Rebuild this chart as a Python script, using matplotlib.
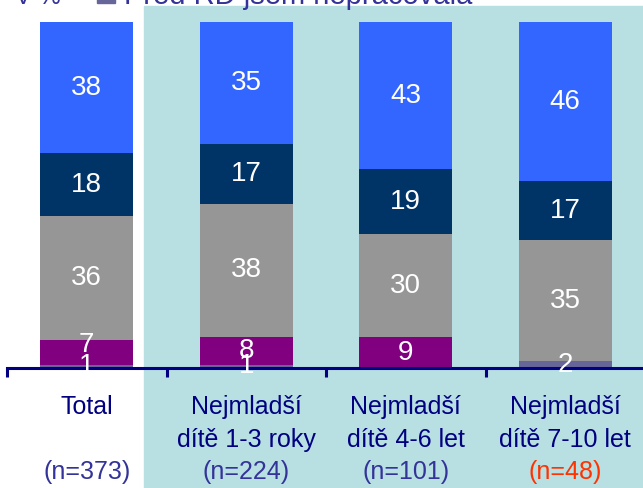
import matplotlib.pyplot as plt
from matplotlib.patches import Rectangle
import numpy as np

plt.rcParams['font.family'] = ['Liberation Sans', 'DejaVu Sans']

# data (percent, bottom -> top)
names_top = ["Total", "Nejmladší", "Nejmladší", "Nejmladší"]
names_bottom = ["", "dítě 1-3 roky", "dítě 4-6 let", "dítě 7-10 let"]
sizes = ["(n=373)", "(n=224)", "(n=101)", "(n=48)"]
size_colors = ["#333399", "#333399", "#333399", "#FF3300"]

nepracovala = [1, 1, 0, 2]
purple_vals = [7, 8, 9, 0]
grey_vals = [36, 38, 30, 35]
navy_vals = [18, 17, 19, 17]
blue_vals = [38, 35, 43, 46]

series = [nepracovala, purple_vals, grey_vals, navy_vals, blue_vals]
colors = ["#666699", "#800080", "#969696", "#003366", "#3366FF"]

W, H = 643, 488
fig = plt.figure(figsize=(W / 100, H / 100), dpi=100)

# teal background panel behind the three sub groups
fig.patches.append(Rectangle((144 / W, 0), 1, (H - 6) / H, transform=fig.transFigure,
                             color="#B8DFE2", zorder=-1))

ax = fig.add_axes([7 / W, (H - 368) / H, 638 / W, 346 / H])
ax.set_zorder(1)
ax.patch.set_visible(False)

x = np.arange(len(names_top))
data = np.array(series, dtype=float)
pct = data / data.sum(axis=0) * 100  # 100% stacked
bottom = np.zeros(len(x))

# small label nudges in pixels (series index, group index)
nudge = {(1, 0): 7}

for si, (vals, col) in enumerate(zip(pct, colors)):
    ax.bar(x, vals, bottom=bottom, width=0.58, color=col, zorder=2)
    for gi in range(len(x)):
        v = series[si][gi]
        if v > 0:
            ax.annotate(str(v), xy=(x[gi], bottom[gi] + vals[gi] / 2),
                        xytext=(0, nudge.get((si, gi), 0)), textcoords="offset pixels",
                        ha="center", va="center", color="white", fontsize=20, zorder=5)
    bottom += vals

ax.set_xlim(-0.5, 3.5)
ax.set_ylim(0, 100)
for s in ["left", "right", "top"]:
    ax.spines[s].set_visible(False)
ax.spines["bottom"].set_color("#000080")
ax.spines["bottom"].set_linewidth(2.2)
ax.set_yticks([])
ax.set_xticks(np.arange(-0.5, 4, 1))
ax.set_xticklabels([])
ax.tick_params(axis="x", direction="out", length=6.5, width=2.2, color="#000080")

tr = ax.get_xaxis_transform()
for gi in range(len(x)):
    ax.annotate(names_top[gi], xy=(x[gi], 0), xycoords=tr, xytext=(0, -39),
                textcoords="offset pixels", ha="center", va="center",
                color="#000080", fontsize=18)
    ax.annotate(names_bottom[gi], xy=(x[gi], 0), xycoords=tr, xytext=(0, -72),
                textcoords="offset pixels", ha="center", va="center",
                color="#000080", fontsize=18)
    ax.annotate(sizes[gi], xy=(x[gi], 0), xycoords=tr, xytext=(0, -104),
                textcoords="offset pixels", ha="center", va="center",
                color=size_colors[gi], fontsize=18)

# header (cut off at the top edge, as in the original slide)
fig.text(15 / W, 1 - 4.5 / H, "V %", va="baseline", ha="left", fontsize=18, color="#333399")
fig.patches.append(Rectangle((97 / W, 1 - 3 / H), 18 / W, 15 / H, transform=fig.transFigure,
                             color="#666699", zorder=3))
fig.text(124 / W, 1 - 4.5 / H, "Před RD jsem nepracovala", va="baseline", ha="left",
         fontsize=21, color="#333399")

fig.savefig("out.png", dpi=100)
